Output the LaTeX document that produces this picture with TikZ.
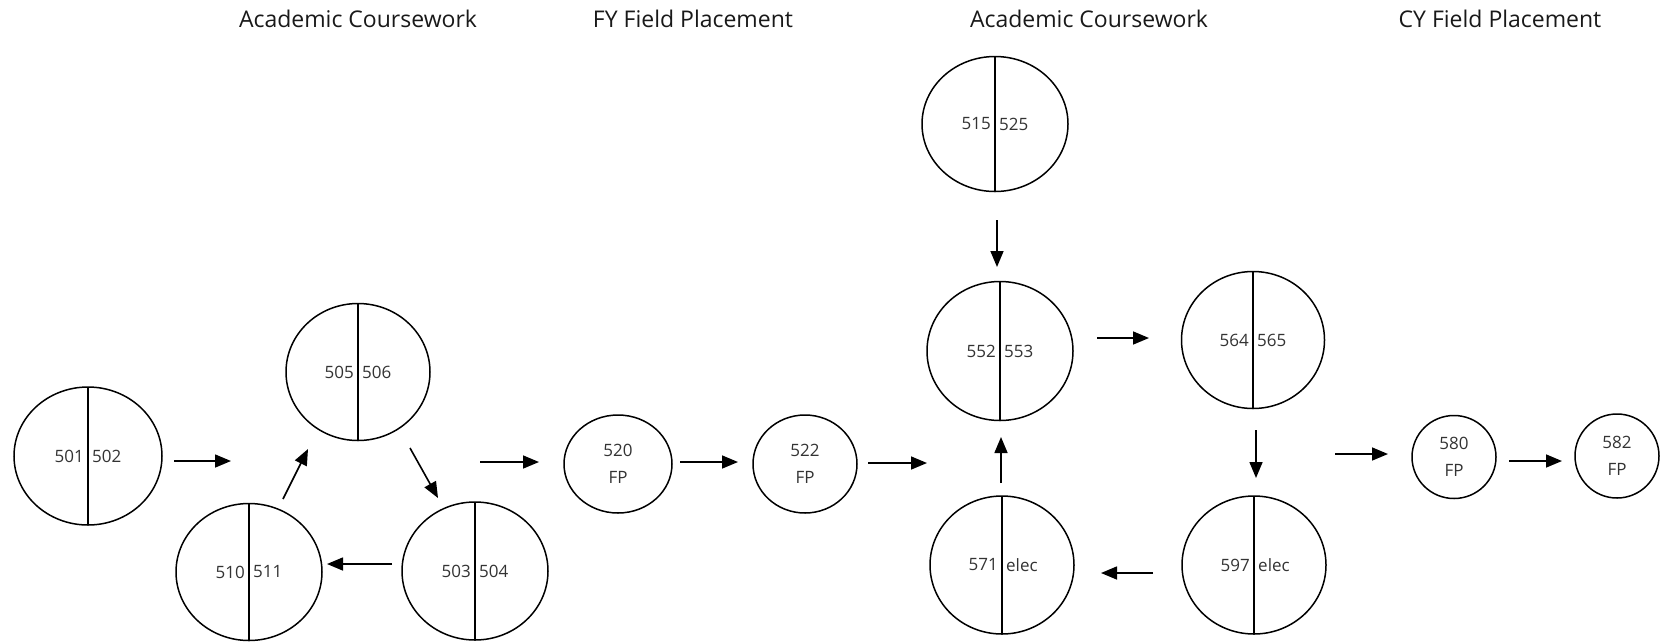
\documentclass[tikz,border=0pt]{standalone}
\usepackage{fontspec}
\setmainfont{Open Sans}
\usetikzlibrary{shapes.geometric,arrows.meta}
\newcommand\splitring[7]{%
  \node[ring, minimum width=#4pt, minimum height=#5pt] (#1) at (#2,#3) {};
  \draw[divider] (#1.north) -- (#1.south);
  \node[num, anchor=east] (#1l) at ([xshift=-4pt]#1.center) {#6};
  \node[num, anchor=west] (#1r) at ([xshift=4pt]#1.center) {#7};}
\newcommand\fpring[6]{%
  \node[ring, minimum width=#4pt, minimum height=#5pt] (#1) at (#2,#3) {};
  \node[num] (#1n) at ([yshift=14pt]#1.center) {#6};
  \node[num] (#1f) at ([yshift=-13pt]#1.center) {FP};}
\begin{document}
\begin{tikzpicture}[x=1pt,y=-1pt,
  ring/.style={draw, ellipse, line width=1.5pt, inner sep=0pt, outer sep=0pt},
  divider/.style={line width=1.5pt},
  num/.style={inner sep=0pt, font=\fontsize{17}{20}\selectfont, text=black!80},
  head/.style={inner sep=0pt, font=\fontsize{23}{27}\selectfont, text=black!90},
  arr/.style={line width=1.6pt, -{Triangle[length=16pt,width=13pt]}}]
\useasboundingbox (0,0) rectangle (1660,641);

% headings
\node[head] (h1) at (358,19) {Academic Coursework};
\node[head] (h2) at (693,19) {FY Field Placement};
\node[head] (h3) at (1089,19) {Academic Coursework};
\node[head] (h4) at (1500,19) {CY Field Placement};

% course rings
\splitring{c501}{88}{456}{148}{138}{501}{502}
\splitring{c505}{358}{372}{144}{137}{505}{506}
\splitring{c510}{249}{572}{146}{137}{510}{511}
\splitring{c503}{475}{571}{146}{138}{503}{504}
\splitring{c515}{995}{124}{146}{135}{515}{525}
\splitring{c552}{1000}{351}{146}{139}{552}{553}
\splitring{c571}{1002}{565}{144}{138}{571}{elec}
\splitring{c564}{1253}{340}{143}{137}{564}{565}
\splitring{c597}{1254}{565}{144}{138}{597}{elec}

% field placement rings
\fpring{c520}{618}{464}{108}{98}{520}
\fpring{c522}{805}{464}{104}{98}{522}
\fpring{c580}{1454}{457}{84}{83}{580}
\fpring{c582}{1617}{456}{84}{84}{582}

% arrow end points
\coordinate (a1s) at (174,461);  \coordinate (a1e) at (231,461);
\coordinate (a2s) at (283,499);  \coordinate (a2e) at (308,449);
\coordinate (a3s) at (410,448);  \coordinate (a3e) at (438,498);
\coordinate (a4s) at (392,564);  \coordinate (a4e) at (327,564);
\coordinate (a5s) at (480,462);  \coordinate (a5e) at (539,462);
\coordinate (a6s) at (680,462);  \coordinate (a6e) at (738,462);
\coordinate (a7s) at (868,463);  \coordinate (a7e) at (927,463);
\coordinate (a8s) at (997,220);  \coordinate (a8e) at (997,267);
\coordinate (a9s) at (1001,483); \coordinate (a9e) at (1001,437);
\coordinate (a10s) at (1097,338); \coordinate (a10e) at (1149,338);
\coordinate (a11s) at (1256,430); \coordinate (a11e) at (1256,478);
\coordinate (a12s) at (1153,573); \coordinate (a12e) at (1101,573);
\coordinate (a13s) at (1335,454); \coordinate (a13e) at (1388,454);
\coordinate (a14s) at (1509,461); \coordinate (a14e) at (1562,461);

\foreach \i in {1,...,14}{\draw[arr] (a\i s) -- (a\i e);}
\end{tikzpicture}
\end{document}
